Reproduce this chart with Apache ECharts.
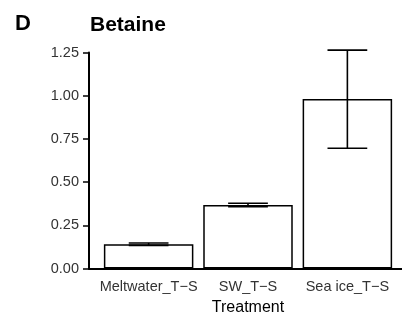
<!DOCTYPE html>
<html>
<head>
<meta charset="utf-8">
<script src="https://cdn.jsdelivr.net/npm/echarts@6/dist/echarts.min.js"></script>
<style>
  html, body { margin: 0; padding: 0; background: #fff; }
  #chart { width: 402px; height: 322px; }
</style>
</head>
<body>
<div id="chart"></div>
<script>
// Betaine by treatment: mean with error range
const categories = ['Meltwater_T\u2212S', 'SW_T\u2212S', 'Sea ice_T\u2212S'];
const means = [0.141, 0.367, 0.981];
const errLow = [0.134, 0.357, 0.696];
const errHigh = [0.148, 0.378, 1.264];
const yTicks = [0, 0.25, 0.5, 0.75, 1.0, 1.25];

const FONT = '"Liberation Sans", Arial, sans-serif';

// bars sit at x = 1, 2, 3 on a continuous axis spanning 0.4..3.6
const barData = means.map((v, i) => [i + 1, v]);
const errData = means.map((v, i) => [i + 1, errLow[i], errHigh[i]]);

const chart = echarts.init(document.getElementById('chart'), null, { renderer: 'canvas' });

chart.setOption({
  animation: false,
  backgroundColor: '#ffffff',
  title: [
    { text: 'D', left: 10, top: 8,
      textStyle: { fontFamily: FONT, fontWeight: 'bold', fontSize: 22, color: '#000' } },
    { text: 'Betaine', left: 85, top: 10,
      textStyle: { fontFamily: FONT, fontWeight: 'bold', fontSize: 21, color: '#000' } }
  ],
  grid: {
    left: 89, width: 318, top: 52.5, bottom: 53.5,
    containLabel: false, outerBoundsMode: 'none'
  },
  xAxis: {
    type: 'value',
    min: 0.4,
    max: 3.6,
    name: 'Treatment',
    nameLocation: 'middle',
    nameGap: 30,
    nameTextStyle: { fontFamily: FONT, fontSize: 16, color: '#000' },
    axisLine: { show: true, onZero: false, lineStyle: { color: '#000', width: 2 } },
    axisTick: { show: false },
    splitLine: { show: false },
    axisLabel: {
      customValues: [1, 2, 3],
      formatter: v => categories[Math.round(v) - 1],
      fontFamily: FONT, fontSize: 14.5, color: '#333', margin: 11
    }
  },
  yAxis: {
    type: 'value',
    min: yTicks[0],
    max: yTicks[yTicks.length - 1],
    interval: 0.25,
    axisLine: { show: true, lineStyle: { color: '#000', width: 2 } },
    axisTick: { show: true, length: 6, lineStyle: { color: '#000', width: 1.5 } },
    splitLine: { show: false },
    axisLabel: {
      formatter: v => v.toFixed(2),
      fontFamily: FONT, fontSize: 14.5, color: '#333', margin: 10
    }
  },
  series: [
    {
      type: 'bar',
      data: barData,
      barWidth: 89.5,
      itemStyle: { color: '#ffffff', borderColor: '#000', borderWidth: 1.5 },
      z: 2
    },
    {
      type: 'custom',
      clip: false,
      z: 3,
      data: errData,
      renderItem: (params, api) => {
        const x = api.value(0);
        const lo = api.coord([x, api.value(1)]);
        const hi = api.coord([x, api.value(2)]);
        const capL = api.coord([x - 0.2, 0])[0];
        const capR = api.coord([x + 0.2, 0])[0];
        const style = { stroke: '#000', lineWidth: 1.6 };
        return {
          type: 'group',
          children: [
            { type: 'line', shape: { x1: lo[0], y1: lo[1], x2: hi[0], y2: hi[1] }, style },
            { type: 'line', shape: { x1: capL, y1: lo[1], x2: capR, y2: lo[1] }, style },
            { type: 'line', shape: { x1: capL, y1: hi[1], x2: capR, y2: hi[1] }, style }
          ]
        };
      }
    }
  ]
});
</script>
</body>
</html>
